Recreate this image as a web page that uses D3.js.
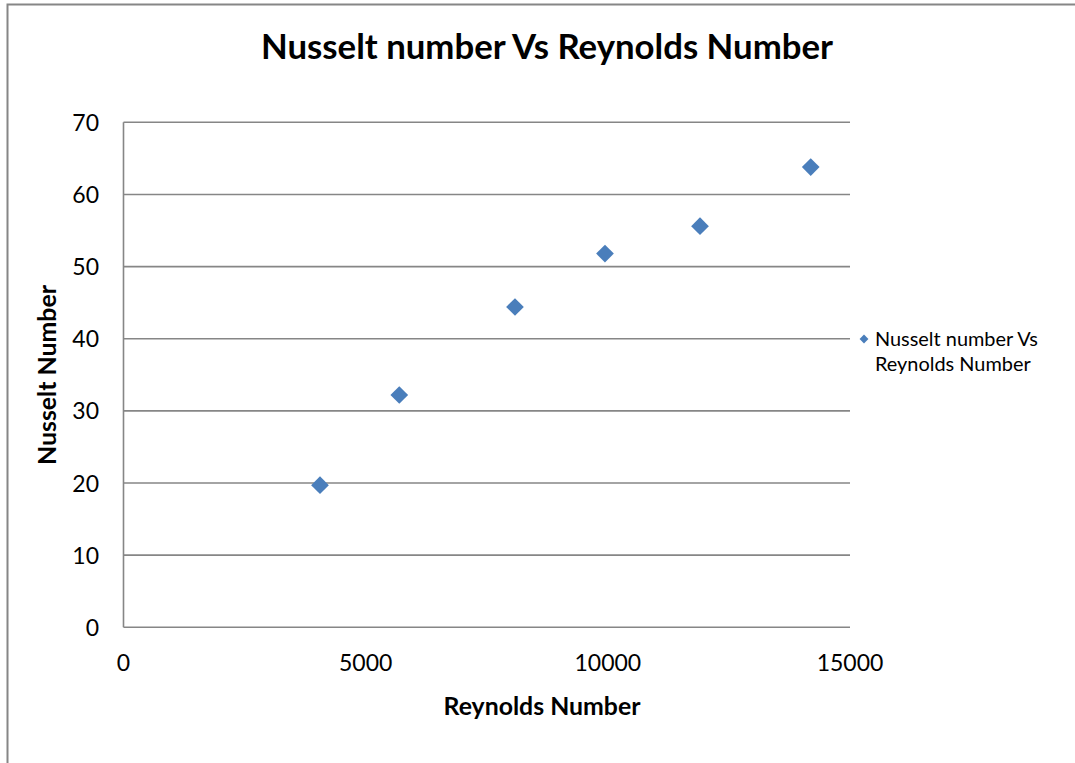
<!DOCTYPE html>
<html><head><meta charset="utf-8">
<script src="https://cdn.jsdelivr.net/npm/d3@7/dist/d3.min.js"></script>
<style>body{margin:0;background:#fff}svg{display:block}</style>
</head><body>
<script>
const reynolds = [4057, 5694, 8083, 9941, 11903, 14189];
const nusselt = [19.7, 32.2, 44.4, 51.8, 55.6, 63.8];
const xTicks = [0, 5000, 10000, 15000];
const yTicks = [0, 10, 20, 30, 40, 50, 60, 70];
const title = "Nusselt number Vs Reynolds Number";
const xTitle = "Reynolds Number";
const yTitle = "Nusselt Number";
const legendLines = ["Nusselt number Vs", "Reynolds Number"];

const W = 1075, H = 763;
const FONT = "Lato, 'Open Sans', sans-serif";
const svg = d3.select("body").append("svg").attr("width", W).attr("height", H);
svg.append("rect").attr("width", W).attr("height", H).attr("fill", "#fff");
// outer chart border
svg.append("path").attr("d", `M7.5,${H} V4.5 H${W}`).attr("fill", "none").attr("stroke", "#868686").attr("stroke-width", 2);

const x = d3.scaleLinear().domain([0, 15000]).range([123.5, 850]);
const y = d3.scaleLinear().domain([0, 70]).range([627.3, 122.3]);

function fit(sel, target) {
  const w = sel.node().getComputedTextLength();
  const fs = parseFloat(sel.attr("font-size"));
  sel.attr("font-size", fs * target / w);
}

// gridlines
svg.append("g").selectAll("line").data(yTicks.filter(d => d > 0)).join("line")
  .attr("x1", x(0)).attr("x2", x(15000)).attr("y1", d => y(d)).attr("y2", d => y(d))
  .attr("stroke", "#868686").attr("stroke-width", 1.6);
// axes lines
svg.append("line").attr("x1", x(0)).attr("x2", x(15000)).attr("y1", y(0)).attr("y2", y(0)).attr("stroke", "#868686").attr("stroke-width", 1.6);
svg.append("line").attr("x1", x(0)).attr("x2", x(0)).attr("y1", y(0)).attr("y2", y(70)).attr("stroke", "#868686").attr("stroke-width", 1.6);

// y tick labels
svg.append("g").selectAll("text").data(yTicks).join("text")
  .attr("x", 99).attr("y", d => y(d) + 8.5).attr("text-anchor", "end")
  .attr("font-family", FONT).attr("font-size", 23).attr("fill", "#000").text(d => d);
// x tick labels
svg.append("g").selectAll("text").data(xTicks).join("text")
  .attr("x", d => x(d)).attr("y", 671).attr("text-anchor", "middle")
  .attr("font-family", FONT).attr("font-size", 23).attr("fill", "#000").text(d => d);

// title
const t = svg.append("text").attr("x", 547).attr("y", 59).attr("text-anchor", "middle")
  .attr("font-family", FONT).attr("font-weight", "bold").attr("font-size", 30).text(title);
fit(t, 572);
const xt = svg.append("text").attr("x", 542).attr("y", 715).attr("text-anchor", "middle")
  .attr("font-family", FONT).attr("font-weight", "bold").attr("font-size", 20).text(xTitle);
fit(xt, 197);
const yt = svg.append("text").attr("transform", "translate(56,375) rotate(-90)").attr("text-anchor", "middle")
  .attr("font-family", FONT).attr("font-weight", "bold").attr("font-size", 20).text(yTitle);
fit(yt, 180);

// points
const diamond = d3.symbol().type(d3.symbolDiamond2).size(200);
svg.append("g").selectAll("path").data(reynolds.map((r, i) => [r, nusselt[i]])).join("path")
  .attr("d", diamond).attr("transform", d => `translate(${x(d[0])},${y(d[1])})`)
  .attr("fill", "#4a7ebb");

// legend
svg.append("path").attr("d", d3.symbol().type(d3.symbolDiamond2).size(50))
  .attr("transform", "translate(864,339)").attr("fill", "#4a7ebb");
const lg = svg.append("g").selectAll("text").data(legendLines).join("text")
  .attr("x", 875).attr("y", (d, i) => 346 + i * 25)
  .attr("font-family", FONT).attr("font-size", 16).text(d => d);
fit(d3.select(lg.nodes()[0]), 163);
d3.select(lg.nodes()[1]).attr("font-size", d3.select(lg.nodes()[0]).attr("font-size"));
</script>
</body></html>
